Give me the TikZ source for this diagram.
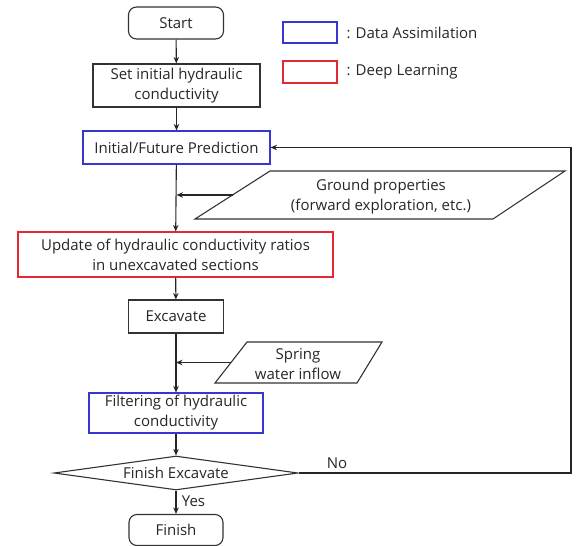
\documentclass[tikz,border=0pt]{standalone}
\usepackage{fontspec}
\setmainfont{Open Sans}
\usetikzlibrary{shapes.geometric,arrows.meta}
\definecolor{dablue}{RGB}{55,55,205}
\definecolor{dlred}{RGB}{228,40,52}
\begin{document}
\begin{tikzpicture}[x=1pt,y=-1pt,font=\fontsize{15}{20}\selectfont,text=black!85,
  box/.style={draw=black!80,line width=1.1pt,inner sep=0pt,align=center},
  term/.style={box,rounded corners=8pt},
  dabox/.style={box,draw=dablue},
  dlbox/.style={box,draw=dlred},
  arr/.style={draw=black!85,line width=1.1pt,-{Stealth[length=6.5pt,width=5.5pt]}}]
\useasboundingbox (0,0) rectangle (576,546);
% flow
\node[term,minimum width=95pt,minimum height=32pt] (start) at (176,23) {Start};
\node[box,minimum width=167pt,minimum height=43pt] (init) at (176.5,85.5) {Set initial hydraulic\\conductivity};
\node[dabox,minimum width=187pt,minimum height=33pt] (pred) at (176.5,147.5) {Initial/Future Prediction};
\node[dlbox,minimum width=315pt,minimum height=45pt] (update) at (175.5,254.5) {Update of hydraulic conductivity ratios\\in unexcavated sections};
\node[box,minimum width=95pt,minimum height=33pt] (exc) at (176,316.5) {Excavate};
\node[dabox,minimum width=174pt,minimum height=40pt] (filter) at (176,413) {Filtering of hydraulic\\conductivity};
\node[box,diamond,aspect=7,minimum width=244pt,minimum height=34pt] (decide) at (176,473) {Finish Excavate};
\node[term,minimum width=94pt,minimum height=31pt] (finish) at (176,530) {Finish};
% inputs
\draw[draw=black!80,line width=1.1pt] (195,219)--(270,171)--(565,171)--(493,219)--cycle;
\node[align=center] (ground) at (381,197) {Ground properties\\(forward exploration, etc.)};
\coordinate (groundin) at (232.5,195);
\draw[draw=black!80,line width=1.1pt] (215,383)--(247,342)--(382,342)--(357,383)--cycle;
\node[align=center] (spring) at (298,364) {Spring\\water inflow};
\coordinate (springin) at (231,362.5);
% legend
\node[dabox,minimum width=54pt,minimum height=21pt] (legda) at (310,32.5) {};
\node[dlbox,minimum width=54pt,minimum height=22pt] (legdl) at (310,72) {};
\node[anchor=west] (legdatxt) at (343,33) {: Data Assimilation};
\node[anchor=west] (legdltxt) at (343,72) {: Deep Learning};
% connectors
\draw[arr] (start) -- (init);
\draw[arr] (init) -- (pred);
\draw[arr] (pred) -- (update);
\draw[arr] (groundin) -- (pred.south |- groundin);
\draw[arr] (update) -- (exc);
\draw[arr] (exc) -- (filter);
\draw[arr] (springin) -- (exc.south |- springin);
\draw[arr] (filter) -- (decide);
\draw[arr] (decide) -- (finish) node[pos=0.45,right=2pt] (yes) {Yes};
\coordinate (back) at (571,147.5);
\draw[arr] (decide.east) -| (back) -- (pred.east);
\node (no) at (337,463) {No};
\end{tikzpicture}
\end{document}
